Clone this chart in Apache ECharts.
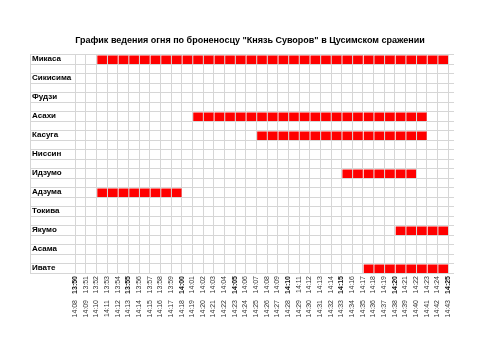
<!DOCTYPE html>
<html>
<head>
    <meta charset="utf-8" />
    <title>График ведения огня</title>
    <script src="https://cdn.jsdelivr.net/npm/echarts@6/dist/echarts.min.js"></script>
    <style>
        html, body { margin: 0; padding: 0; background: #fff; }
        #main { width: 500px; height: 353px; }
    </style>
</head>
<body>
<div id="main"></div>
<script type="text/javascript">
// время (верхний ряд подписей) и второй ряд подписей
var times = ['13:50', '13:51', '13:52', '13:53', '13:54', '13:55', '13:56', '13:57', '13:58', '13:59',
    '14:00', '14:01', '14:02', '14:03', '14:04', '14:05', '14:06', '14:07', '14:08', '14:09',
    '14:10', '14:11', '14:12', '14:13', '14:14', '14:15', '14:16', '14:17', '14:18', '14:19',
    '14:20', '14:21', '14:22', '14:23', '14:24', '14:25'];
var times2 = ['14:08', '14:09', '14:10', '14:11', '14:12', '14:13', '14:14', '14:15', '14:16', '14:17',
    '14:18', '14:19', '14:20', '14:21', '14:22', '14:23', '14:24', '14:25', '14:26', '14:27',
    '14:28', '14:29', '14:30', '14:31', '14:32', '14:33', '14:34', '14:35', '14:36', '14:37',
    '14:38', '14:39', '14:40', '14:41', '14:42', '14:43'];
var boldTimes = ['13:50', '13:55', '14:00', '14:05', '14:10', '14:15', '14:20', '14:25'];

var ships = ['Микаса', 'Сикисима', 'Фудзи', 'Асахи', 'Касуга', 'Ниссин',
    'Идзумо', 'Адзума', 'Токива', 'Якумо', 'Асама', 'Ивате'];
// начало и конец стрельбы (null - не стрелял)
var fireFrom = ['13:52', null, null, '14:01', '14:07', null, '14:15', '13:52', null, '14:20', null, '14:17'];
var fireTo   = ['14:25', null, null, '14:23', '14:23', null, '14:22', '14:00', null, '14:25', null, '14:25'];

// строки: корабль + пустая строка под ним
var rows = [];
for (var i = 0; i < ships.length; i++) {
    rows.push(ships[i]);
    if (i < ships.length - 1) rows.push('');
}

var fireData = [];
for (var i = 0; i < ships.length; i++) {
    if (!fireFrom[i]) continue;
    fireData.push([times.indexOf(fireFrom[i]), times.indexOf(fireTo[i]), i * 2]);
}

var lineColor = '#d6d6d6';
var font = '"Liberation Sans", Arial, sans-serif';

function renderCells(params, api) {
    var s = api.value(0), e = api.value(1), row = api.value(2);
    var h = api.size([0, 1])[1];
    var children = [];
    for (var k = s; k < e; k++) {
        var p0 = api.coord([k, row]);
        var p1 = api.coord([k + 1, row]);
        children.push({
            type: 'rect',
            shape: { x: p0[0] + 1, y: p0[1] - h / 2 + 1, width: p1[0] - p0[0] - 1, height: h - 1 },
            style: { fill: '#ff0000' }
        });
    }
    return { type: 'group', children: children };
}

var myChart = echarts.init(document.getElementById('main'));

myChart.setOption({
    animation: false,
    textStyle: { fontFamily: font },
    title: {
        text: 'График ведения огня по броненосцу "Князь Суворов" в Цусимском сражении',
        left: 'center',
        top: 31,
        textStyle: { fontSize: 9, fontWeight: 'bold', color: '#000', fontFamily: font }
    },
    grid: [
        { left: 30, right: 46, top: 54.5, height: 218.5 },
        { left: 75, right: 52, top: 54.5, height: 218.5 }
    ],
    xAxis: [
        { gridIndex: 0, type: 'value', show: false, min: 0, max: 1 },
        {
            gridIndex: 1,
            type: 'category',
            data: times,
            boundaryGap: false,
            position: 'bottom',
            axisLine: { show: false },
            axisTick: { show: false },
            splitLine: { show: true, lineStyle: { color: lineColor, width: 1 } },
            axisLabel: {
                interval: 0,
                rotate: 90,
                margin: 3,
                fontSize: 7,
                color: '#333',
                formatter: function (v) {
                    return boldTimes.indexOf(v) >= 0 ? '{b|' + v + '}' : v;
                },
                rich: { b: { fontWeight: 'bold', fontSize: 7, color: '#111' } }
            }
        },
        {
            gridIndex: 1,
            type: 'category',
            data: times2,
            boundaryGap: false,
            position: 'bottom',
            offset: 24,
            axisLine: { show: false },
            axisTick: { show: false },
            splitLine: { show: false },
            axisLabel: { interval: 0, rotate: 90, margin: 3, fontSize: 7, color: '#333' }
        }
    ],
    yAxis: [
        {
            gridIndex: 0,
            type: 'category',
            data: rows,
            inverse: true,
            axisLine: { show: true, lineStyle: { color: lineColor } },
            axisTick: { show: false },
            splitLine: { show: true, lineStyle: { color: lineColor, width: 1 } },
            axisLabel: {
                inside: true,
                interval: 0,
                margin: 2,
                fontSize: 8,
                fontWeight: 'bold',
                color: '#000'
            }
        },
        {
            gridIndex: 1,
            type: 'category',
            data: rows,
            inverse: true,
            show: false
        }
    ],
    series: [{
        type: 'custom',
        xAxisIndex: 1,
        yAxisIndex: 1,
        renderItem: renderCells,
        encode: { x: [0, 1], y: 2 },
        data: fireData
    }]
});
</script>
</body>
</html>
